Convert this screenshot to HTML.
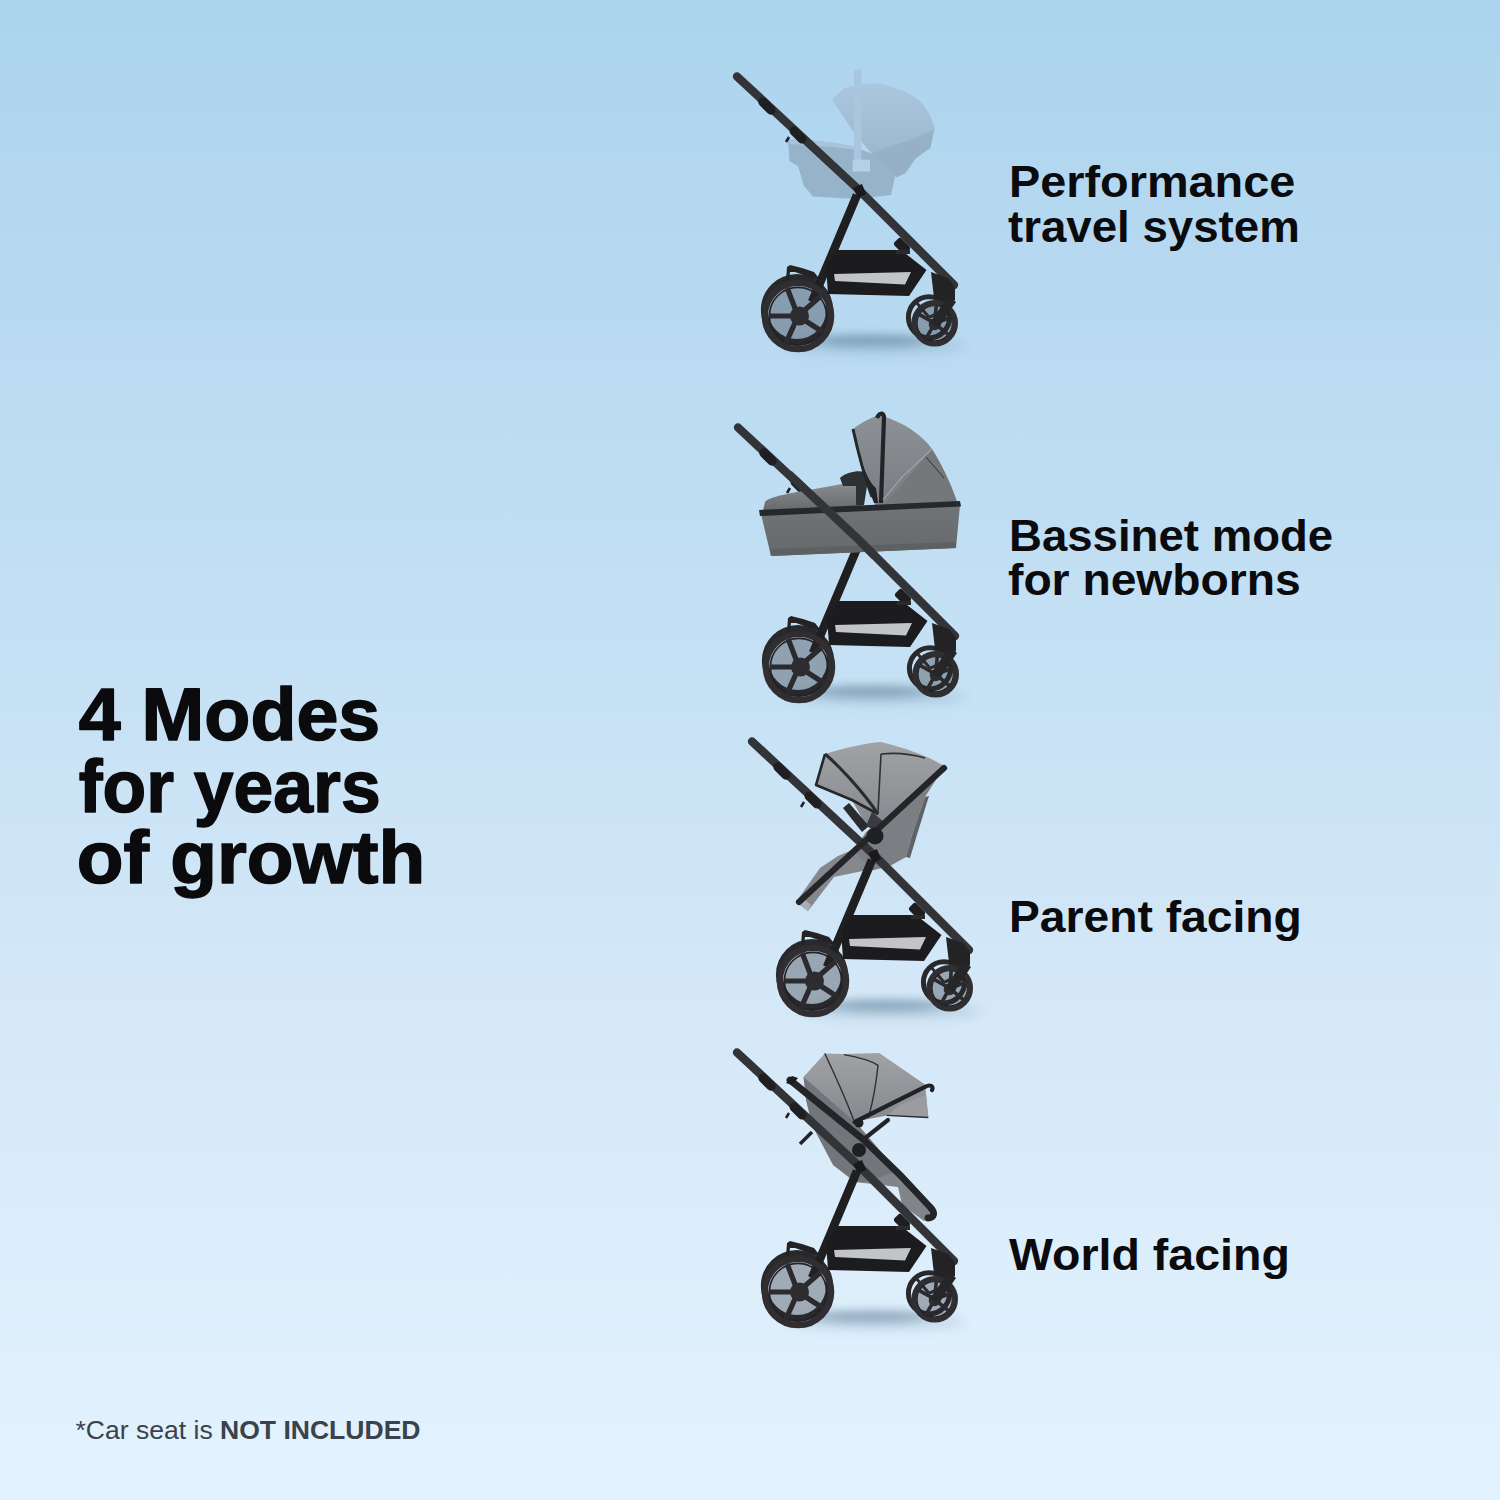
<!DOCTYPE html>
<html><head><meta charset="utf-8">
<style>
html,body{margin:0;padding:0;width:1500px;height:1500px;overflow:hidden;}
body{background:linear-gradient(to bottom,#acd4ee 0%,#c4e0f4 42%,#d6e9f8 70%,#e0f0fd 92%,#e2f2fd 100%);}
svg{position:absolute;left:0;top:0;display:block;}
.h{font-family:"Liberation Sans",sans-serif;font-weight:bold;fill:#0b0b0e;}
.hb{stroke:#0b0b0e;stroke-width:1.5;stroke-linejoin:round;}
.f{font-family:"Liberation Sans",sans-serif;fill:#3a424b;}
</style></head>
<body>
<svg width="1500" height="1500" viewBox="0 0 1500 1500">
<defs>
  <filter id="blur6" x="-50%" y="-200%" width="200%" height="500%"><feGaussianBlur stdDeviation="6"/></filter>
  <filter id="blur4" x="-50%" y="-200%" width="200%" height="500%"><feGaussianBlur stdDeviation="4"/></filter>
  <linearGradient id="gCan" x1="0" y1="0" x2="0" y2="1"><stop offset="0" stop-color="#a0a2a6"/><stop offset="1" stop-color="#85888c"/></linearGradient>
  <linearGradient id="gCan2" x1="0" y1="0" x2="0" y2="1"><stop offset="0" stop-color="#8d9094"/><stop offset="1" stop-color="#797c80"/></linearGradient>
  <linearGradient id="gBody" x1="0" y1="0" x2="0" y2="1"><stop offset="0" stop-color="#707477"/><stop offset="1" stop-color="#65696c"/></linearGradient>
  <linearGradient id="gApron" x1="0" y1="0" x2="0" y2="1"><stop offset="0" stop-color="#8e9194"/><stop offset="1" stop-color="#66696c"/></linearGradient>
  <linearGradient id="gCS" x1="0" y1="0" x2="0" y2="1"><stop offset="0" stop-color="#abc7dd"/><stop offset="1" stop-color="#98b3c9"/></linearGradient>
  <g id="wheelBig">
    <circle cx="0" cy="0" r="30" fill="#2a2a2e" opacity="0.34"/>
    <circle cx="0" cy="0" r="33.2" fill="none" stroke="#302e31" stroke-width="6.2"/>
    <circle cx="0" cy="0" r="28.6" fill="none" stroke="#232326" stroke-width="1.6"/>
    <path d="M0,0 L-10.8,-28 M0,0 L-29,0 M0,0 L-12.2,27.4 M0,0 L25.2,16.3 M0,0 L22.6,-19.7" stroke="#2b2b2f" stroke-width="5.2"/>
    <circle cx="1.5" cy="0" r="9.5" fill="#2d2d31"/>
  </g>
  <g id="wheelBigFar">
    <circle cx="0" cy="0" r="32.6" fill="none" stroke="#29292c" stroke-width="7"/>
  </g>
  <g id="wheelSmall">
    <circle cx="0" cy="0" r="19" fill="#2a2a2e" opacity="0.34"/>
    <circle cx="0" cy="0" r="20.6" fill="none" stroke="#302e31" stroke-width="5.4"/>
    <circle cx="0" cy="0" r="17.6" fill="none" stroke="#1f1f22" stroke-width="1.1"/>
    <path d="M0,0 L-16,-9.2 M0,0 L-9.5,16.5 M0,0 L14.2,11.9 M0,0 L17.8,-6.5 M0,0 L1.6,-18.2" stroke="#2b2b2f" stroke-width="3.6"/>
    <circle cx="0" cy="1" r="6" fill="#2d2d31"/>
  </g>
  <g id="wheelSmallFar">
    <circle cx="0" cy="0" r="20.6" fill="none" stroke="#29292c" stroke-width="5"/>
    <path d="M0,0 L-12,-14 M0,0 L17,-8" stroke="#2b2b2f" stroke-width="3"/>
  </g>
  <g id="chassis">
    <ellipse cx="78" cy="30" rx="90" ry="7" fill="#4f7290" opacity="0.22" filter="url(#blur6)"/><ellipse cx="72" cy="24" rx="58" ry="6" fill="#4a6a86" opacity="0.42" filter="url(#blur4)"/>
    <!-- far wheels -->
    <use href="#wheelBigFar" transform="translate(-1,-6)"/>
    <use href="#wheelSmallFar" transform="translate(131,1.3)"/>
    <!-- rear leg -->
    <path d="M59,-121 L24,-38 L14,-14" stroke="#1f1f22" stroke-width="8.5" stroke-linejoin="round" fill="none"/>
    <!-- rear fender bracket -->
    <path d="M-12,-36 L-11,-49 L-8,-51 L4,-48 L16,-44 L24,-34 L14,-38 L-3,-44 L-8,-44 L-9,-36 Z" fill="#232326"/>
    <!-- basket -->
    <path d="M40,-66 L103,-66 L128.5,-46 L111,-20 L30,-22 L28,-50 Z" fill="#1c1c1f"/>
    <path d="M36,-42 L113,-44 L107,-31.5 L37,-35 Z" fill="#c2c5c8"/>
    <!-- main bar (handle to front caster) -->
    <path d="M-61,-239.5 L60,-127 L156,-31" stroke="#333438" stroke-width="8.4" stroke-linejoin="round" stroke-linecap="round" fill="none"/>
    <path d="M-35,-214 L-27,-206" stroke="#1f1f22" stroke-width="9.4" stroke-linecap="round"/><path d="M-4,-185 L4,-177" stroke="#1f1f22" stroke-width="9" stroke-linecap="round"/><path d="M-9,-179 L-12,-174" stroke="#1f1f22" stroke-width="2.5"/>
    <!-- hub joint upper -->
    <path d="M55,-128 L64,-132 L68,-122 L60,-118 Z" fill="#1a1a1d"/>
    <!-- fold joint -->
    <rect x="-8" y="-5" width="16" height="10" rx="3" fill="#1e1e21" transform="translate(104,-70) rotate(45)"/><rect x="98" y="-66" width="14" height="4" fill="#2a2a2e"/>
    <!-- front leg / caster -->
    <path d="M133,-44 L150,-38 L157,-29 L157,-16 L152,-12 L136,-18 Z" fill="#232326"/>
    <!-- near wheels -->
    <use href="#wheelBig"/>
    <use href="#wheelSmall" transform="translate(136.7,7.3)"/>
    <path d="M150,-20 L158,-14 L141,11 L132,7 Z" fill="#262629"/>
  </g>
</defs>

<!-- ============ Stroller 1: travel system ============ -->
<g id="s1">
  <!-- car seat (translucent light blue) -->
  <path d="M788,139 C805,140 830,141 854,146.5 L872,154 L896,172 L891,195 L857,199 L813,196.5 L804,186 L798,166 L789.5,161 Z" fill="#97b3ca"/>
  <path d="M789,139 C805,140 830,141 854,146.5 L856,150 C830,146 806,145 790,144 Z" fill="#afcbe1" opacity="0.7"/>
  <path d="M832,99.6 L844,88 C858,84 870,83 879,83.5 C900,88 914,95 921.5,102.5 C929,112 933,120 934.7,129 L930.3,148 L915.7,158.3 L905.4,172.9 L896.6,177.3 L871.7,154 L852.6,130.4 Z" fill="url(#gCS)"/>
  <path d="M930.3,148 L915.7,158.3 L905.4,172.9 L896.6,177.3 L871.7,154 L880,150 L910,140 L934,130 Z" fill="#93aec5" opacity="0.8"/>
  <path d="M854,69.5 L861.4,69.5 L861.4,161 L854,161 Z" fill="#a9c6de"/>
  <path d="M852.6,159.7 L870,159.7 L870,171.5 L852.6,171.5 Z" fill="#b2d0e8"/>
  <use href="#chassis" transform="translate(798,316)"/>
</g>

<!-- ============ Stroller 2: bassinet ============ -->
<g id="s2">
  <use href="#chassis" transform="translate(799,667)"/>
  <!-- bassinet body -->
  <path d="M761,514 L960,505 L956,548 L771,556 Z" fill="url(#gBody)"/>
  <path d="M770,549 L956,542 L956,548 L771,556 Z" fill="#5d6164"/>
  <!-- apron -->
  <path d="M763,511 L765,502 C768,497 790,493 820,488 L842,484 L862,480 L862,508 Z" fill="url(#gApron)"/>
  <!-- bumper -->
  <path d="M840,478 C846,472 858,470 866,472 C869,474 869,480 867,486 L864,505 L856,505 L856,486 L843,486 Z" fill="#2f3034"/>
  <!-- canopy -->
  <path d="M853,429 C862,422 872,417 880,415 C905,423 922,435 932,449 C942,465 950,482 956,499 L958,506 L876,508 Z" fill="url(#gCan2)"/>
  <path d="M883,506 L932,449 C942,465 950,482 956,499 L958,506 Z" fill="#75787b"/>
  <path d="M853,429 C859,455 866,480 876,488 L878,503 L874,503 C864,478 857,455 853,429 Z" fill="#222327"/>
  <path d="M853,429 C858,452 864,475 872,497" stroke="#25262a" stroke-width="3" fill="none"/>
  <path d="M877,418 C879,413 883,412 884,417 L881,503" stroke="#232427" stroke-width="4.2" fill="none"/>
  <path d="M932,449 L902,477 L883,500" stroke="#b4b7bb" stroke-width="0.9" fill="none"/>
  <path d="M926,457 L944,478" stroke="#2e2f33" stroke-width="1" fill="none"/>
  <!-- rim -->
  <path d="M759,510 L960,501 L961,506.5 L760,516 Z" fill="#27282b"/>
  <!-- bar in front of bassinet -->
  <path d="M788.8,474 L859,540 L875,556" stroke="#333438" stroke-width="8.4" stroke-linejoin="round" fill="none"/>
</g>

<!-- ============ Stroller 3: parent facing ============ -->
<g id="s3">
  <!-- seat back -->
  <path d="M866,832 L929,784 L937,778 L925,797 L912,835 L906,857 L890,866 L870,871 L852,853 Z" fill="#7b7e82"/>
  <path d="M906,857 L912,835 L925,797 L929,796 L916,838 L910,858 Z" fill="#5f6266"/>
  <!-- footrest -->
  <path d="M852,850 L872,869 L834,877 L808,911 L796,902 L820,868 L838,856 Z" fill="#85888d"/>
  <path d="M808,911 L796,902 L800,896 L811,905 Z" fill="#aaadb1"/>
  <!-- canopy -->
  <path d="M825,754 C845,748 865,743 881,742 C905,748 925,755 937,762 L948,768 L884,826 L872,830 L862,818 L852,800 L816,785 Z" fill="url(#gCan)"/>
  <path d="M825,754 L816,785 L852,800 L878,814" stroke="#26272b" stroke-width="2.6" fill="none" stroke-linejoin="round"/>
  <path d="M825,754 C838,765 862,790 878,814" stroke="#2a2b2f" stroke-width="3" fill="none"/>
  <path d="M881,754 L878,812 M881,754 C900,752 915,755 925,758" stroke="#2f3034" stroke-width="1.6" fill="none"/>
  <!-- bumper bar -->
  <path d="M843,808 L849,803 L869,826 L862,832 Z" fill="#2a2b2f"/><path d="M872,812 L884,822 L878,832 L866,826 Z" fill="#3a3b3f"/>
  <use href="#chassis" transform="translate(813,981)"/>
  <!-- armrest bar -->
  <path d="M944,768 L799,902" stroke="#242529" stroke-width="6.2" stroke-linecap="round"/>
  <circle cx="875" cy="836" r="8.5" fill="#1f2023"/>
</g>

<!-- ============ Stroller 4: world facing ============ -->
<g id="s4">
  <!-- seat fabric -->
  <path d="M803.5,1077 L818,1078 L900,1174 L864,1183 L855,1182 L833,1165 L812,1125 L806,1100 Z" fill="#727579"/>
  <!-- footrest -->
  <path d="M864,1183 L897,1171 L937,1214 L924,1221 L902,1205 L898,1187 Z" fill="#818489"/>
  <!-- canopy -->
  <path d="M803.5,1077 L824.8,1053.5 L844,1054 L879.2,1053 L925,1084.5 L928.3,1117.5 L886.7,1115.4 L854.7,1121.8 Z" fill="url(#gCan)"/>
  <path d="M886.7,1115.4 L928.3,1117.5 L926,1095 L900,1105 Z" fill="#9a9ca0"/>
  <path d="M824.8,1053.5 C835,1075 846,1100 853.6,1119.7 M844,1054.6 C858,1057 870,1060 878,1065.3 C876,1085 872,1105 868.5,1117.5" stroke="#2e2f33" stroke-width="1.4" fill="none"/>
  <path d="M886.7,1115.4 L928.3,1117.5" stroke="#2a2b2f" stroke-width="1.4"/>
  <!-- canopy support rod -->
  <path d="M888,1120 L864,1139" stroke="#232427" stroke-width="4.2" stroke-linecap="round"/>
  <!-- canopy frame -->
  <path d="M854.7,1122 L925,1087 C930,1084 934,1086 932,1090" stroke="#212226" stroke-width="4.2" fill="none" stroke-linecap="round"/>
  <use href="#chassis" transform="translate(798,1292)"/>
  <!-- handle clip -->
  <path d="M800,1144 L812,1132" stroke="#222326" stroke-width="3.5"/>
  <!-- armrest / seat bar -->
  <path d="M790,1080 L864,1140 L900,1175 L930,1207 C936,1213 934,1218 928,1218" stroke="#242529" stroke-width="6.8" stroke-linecap="round" fill="none"/>
  <path d="M786,1083 L792,1076 L798,1078 L792,1085 Z" fill="#1b1b1e"/>
  <circle cx="859" cy="1123" r="4.5" fill="#1f2023"/>
  <circle cx="859" cy="1150" r="7" fill="#1f2023"/>
</g>

<!-- ============ Text ============ -->
<text class="h hb" x="78.7" y="740" font-size="74" textLength="301.6" lengthAdjust="spacingAndGlyphs">4 Modes</text>
<text class="h hb" x="78.7" y="811.5" font-size="74" textLength="302" lengthAdjust="spacingAndGlyphs">for years</text>
<text class="h hb" x="76.7" y="883" font-size="74" textLength="348.5" lengthAdjust="spacingAndGlyphs">of growth</text>

<text class="h" x="1009" y="196.5" font-size="45" textLength="286.3" lengthAdjust="spacingAndGlyphs">Performance</text>
<text class="h" x="1008" y="241.5" font-size="45" textLength="291.8" lengthAdjust="spacingAndGlyphs">travel system</text>
<text class="h" x="1009" y="550.5" font-size="45" textLength="324.2" lengthAdjust="spacingAndGlyphs">Bassinet mode</text>
<text class="h" x="1008" y="595" font-size="45" textLength="292.7" lengthAdjust="spacingAndGlyphs">for newborns</text>
<text class="h" x="1009" y="932" font-size="45" textLength="292.8" lengthAdjust="spacingAndGlyphs">Parent facing</text>
<text class="h" x="1009" y="1270" font-size="45" textLength="280.8" lengthAdjust="spacingAndGlyphs">World facing</text>

<text class="f" x="75.5" y="1439" font-size="26" textLength="345" lengthAdjust="spacingAndGlyphs">*Car seat is <tspan font-weight="bold">NOT INCLUDED</tspan></text>
</svg>
</body></html>
